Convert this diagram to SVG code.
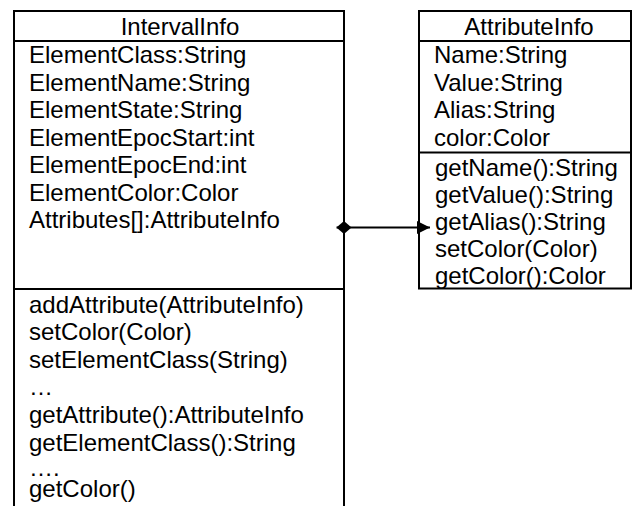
<svg xmlns="http://www.w3.org/2000/svg" width="633" height="506" viewBox="0 0 633 506">
<style>
.box{fill:none;stroke:#000;stroke-width:2}
.t{font-family:"Liberation Sans",Arial,sans-serif;font-size:24px;fill:#000}
.c{text-anchor:middle}
.ln{stroke:#000;stroke-width:2;fill:none}
</style>
<defs>
<marker id="diamond" markerWidth="16" markerHeight="14" refX="0" refY="6.5" orient="auto" markerUnits="userSpaceOnUse">
<path d="M0,6.5 L7.5,0 L15,6.5 L7.5,13 Z" fill="#000"/>
</marker>
<marker id="arrow" markerWidth="14" markerHeight="14" refX="13" refY="6.5" orient="auto" markerUnits="userSpaceOnUse">
<path d="M0,0 L13,6.5 L0,13 Z" fill="#000"/>
</marker>
</defs>
<rect width="633" height="506" fill="#fff"/>
<g id="IntervalInfo">
<path class="box" d="M14,506 L14,11 L344,11 L344,506"/>
<line class="ln" x1="14" y1="41" x2="344" y2="41"/>
<line class="ln" x1="14" y1="289" x2="344" y2="289"/>
<text class="t c" x="180" y="35">IntervalInfo</text>
<text class="t" x="29" y="63">ElementClass:String</text>
<text class="t" x="29" y="90.5">ElementName:String</text>
<text class="t" x="29" y="118">ElementState:String</text>
<text class="t" x="29" y="145.5">ElementEpocStart:int</text>
<text class="t" x="29" y="173">ElementEpocEnd:int</text>
<text class="t" x="29" y="200.5">ElementColor:Color</text>
<text class="t" x="29" y="228">Attributes[]:AttributeInfo</text>
<text class="t" x="29" y="313">addAttribute(AttributeInfo)</text>
<text class="t" x="29" y="340">setColor(Color)</text>
<text class="t" x="29" y="367.5">setElementClass(String)</text>
<text class="t" x="29" y="395">…</text>
<text class="t" x="29" y="423">getAttribute():AttributeInfo</text>
<text class="t" x="29" y="450.5">getElementClass():String</text>
<text class="t" x="29" y="475.5">….</text>
<text class="t" x="29" y="497">getColor()</text>
</g>
<g id="AttributeInfo">
<rect class="box" x="419" y="11" width="212" height="277.5"/>
<line class="ln" x1="419" y1="41" x2="631" y2="41"/>
<line class="ln" x1="419" y1="152.5" x2="631" y2="152.5"/>
<text class="t c" x="529" y="35">AttributeInfo</text>
<text class="t" x="434" y="63">Name:String</text>
<text class="t" x="434" y="90.5">Value:String</text>
<text class="t" x="434" y="118">Alias:String</text>
<text class="t" x="434" y="145.5">color:Color</text>
<text class="t" x="435" y="176">getName():String</text>
<text class="t" x="435" y="203">getValue():String</text>
<text class="t" x="435" y="230">getAlias():String</text>
<text class="t" x="435" y="257">setColor(Color)</text>
<text class="t" x="435" y="283.5">getColor():Color</text>
</g>
<g id="connectors">
<line class="ln" x1="336.5" y1="227.5" x2="430" y2="227.5" marker-start="url(#diamond)" marker-end="url(#arrow)"/>
</g>
</svg>
